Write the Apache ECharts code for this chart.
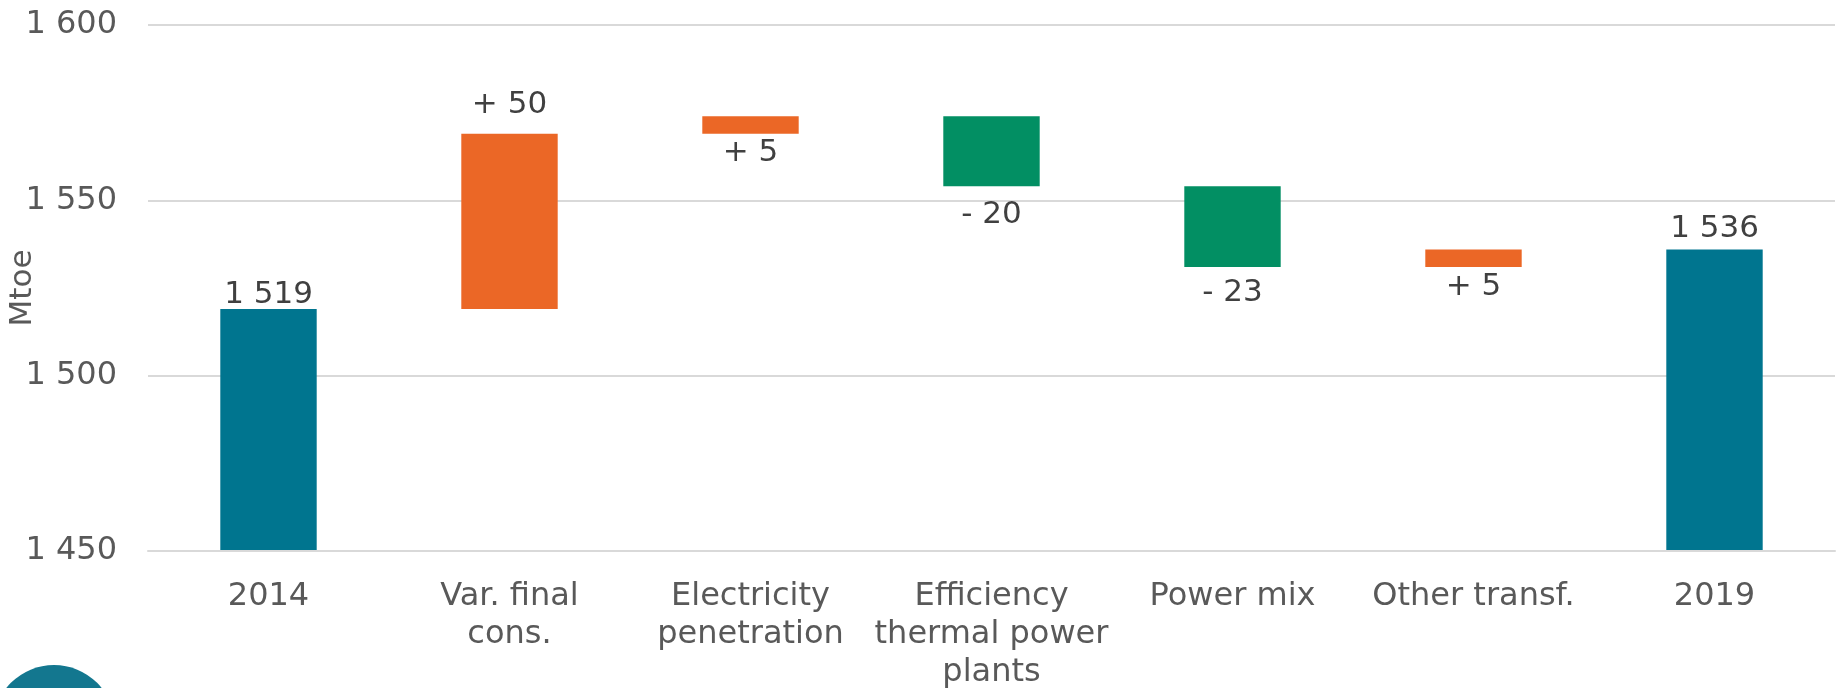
<!DOCTYPE html>
<html>
<head>
<meta charset="utf-8">
<script src="https://cdn.jsdelivr.net/npm/echarts@6/dist/echarts.min.js"></script>
<style>
  html, body { margin: 0; padding: 0; background: #fff; }
  #chart { width: 1838px; height: 688px; }
</style>
</head>
<body>
<div id="chart"></div>
<script>
// categories of the waterfall
const categories = ['2014', 'Var. final\ncons.', 'Electricity\npenetration', 'Efficiency\nthermal power\nplants', 'Power mix', 'Other transf.', '2019'];
// start total, the changes in between, end total (Mtoe)
const startTotal = 1519;
const changes = [50, 5, -20, -23, 5];
const endTotal = 1536;
// y axis ticks
const yMin = 1450;
const yMax = 1600;
const yStep = 50;

const TEAL = '#00758F';
const ORANGE = '#EB6726';
const GREEN = '#028F63';

function fmt(v) {
  return String(v).replace(/\B(?=(\d{3})+(?!\d))/g, ' ');
}

// build the invisible base and visible height for every bar
let base = [], height = [], colors = [], texts = [];
base.push(0); height.push(startTotal); colors.push(TEAL); texts.push(fmt(startTotal));
let level = startTotal;
changes.forEach(c => {
  if (c >= 0) {
    base.push(level); height.push(c); colors.push(ORANGE); texts.push('+ ' + c);
  } else {
    base.push(level + c); height.push(-c); colors.push(GREEN); texts.push('- ' + (-c));
  }
  level += c;
});
base.push(0); height.push(endTotal); colors.push(TEAL); texts.push(fmt(endTotal));

// label placement per bar (as in the original)
const labelPos = ['top', 'top', 'bottom', 'bottom', 'bottom', 'bottom', 'top'];
const labelDist = [-1, 13, 4, 13, 10, 4, 5];

const chart = echarts.init(document.getElementById('chart'));
chart.setOption({
  animation: false,
  textStyle: { fontFamily: 'DejaVu Sans' },
  graphic: [{
    type: 'circle',
    shape: { cx: 54, cy: 726, r: 61 },
    style: { fill: '#13778F' },
    silent: true
  }],
  grid: { left: 148, right: 3, top: 25, bottom: 137, outerBoundsMode: 'none', containLabel: false },
  xAxis: {
    type: 'category',
    data: categories,
    z: 10,
    axisTick: { show: false },
    axisLine: { lineStyle: { color: '#D9D9D9', width: 2 } },
    axisLabel: {
      color: '#595959',
      fontSize: 32,
      lineHeight: 38,
      margin: 27,
      interval: 0
    }
  },
  yAxis: {
    type: 'value',
    min: yMin,
    max: yMax,
    interval: yStep,
    name: 'Mtoe',
    nameLocation: 'middle',
    nameGap: 110,
    nameMoveOverlap: false,
    nameTextStyle: { color: '#595959', fontSize: 31 },
    axisLine: { show: false },
    axisTick: { show: false },
    axisLabel: {
      color: '#595959',
      fontSize: 32,
      margin: 31,
      formatter: v => fmt(v)
    },
    splitLine: { lineStyle: { color: '#D9D9D9', width: 2 } }
  },
  series: [
    {
      type: 'bar',
      stack: 'w',
      barWidth: '40%',
      itemStyle: { color: 'transparent' },
      silent: true,
      data: base
    },
    {
      type: 'bar',
      stack: 'w',
      barWidth: '40%',
      data: height.map((h, i) => ({
        value: h,
        itemStyle: { color: colors[i] },
        label: {
          show: true,
          position: labelPos[i],
          distance: labelDist[i],
          formatter: texts[i],
          color: '#404040',
          fontSize: 31
        }
      }))
    }
  ]
});
</script>
</body>
</html>
